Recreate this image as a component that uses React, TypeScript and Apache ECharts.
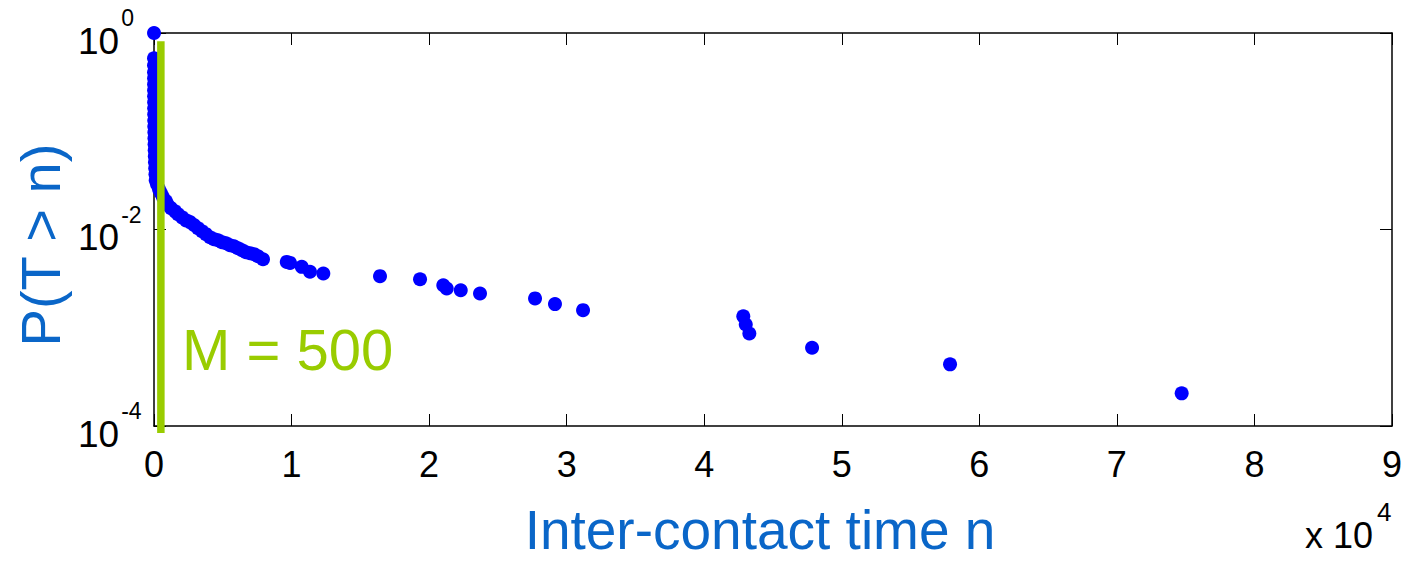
import { useEffect, useRef } from "react";
import * as echarts from "echarts";

// Empirical survival function of inter-contact times: P(T > n) against n.
const interContactTime = [
  1, 2, 3, 4, 5, 6, 7, 9, 11, 13, 16, 19, 23, 28, 34, 41, 50, 60, 72, 87, 105, 126,
  218, 364, 509, 654, 872, 1018, 1236, 1527, 1745, 2036, 2326, 2617, 2908, 3199,
  3490, 3780, 4071, 4362, 4653, 4944, 5234, 5525, 5816, 6107, 6398, 6688, 6979,
  7270, 7561, 7924,
  9650, 9890, 10740, 11340, 12310, 16430, 19340, 21030, 21280, 22300, 23700,
  27700, 29150, 31190,
  42840, 43020, 43280, 47840, 57870, 74710,
];

const survivalProb = [
  1.0, 0.553, 0.469, 0.398, 0.346, 0.301, 0.261, 0.227, 0.197, 0.171, 0.149, 0.129,
  0.112, 0.0977, 0.0849, 0.0738, 0.0641, 0.0557, 0.0484, 0.0421, 0.0366, 0.0318,
  0.0289, 0.0257, 0.0234, 0.0213, 0.0194, 0.0177, 0.0165, 0.0153, 0.0143, 0.0133,
  0.0124, 0.0119, 0.0111, 0.0103, 0.00961, 0.00896, 0.00835, 0.00797, 0.00778,
  0.00743, 0.00725, 0.00692, 0.00676, 0.00645, 0.00615, 0.00587, 0.00574, 0.00561,
  0.00535, 0.00498,
  0.00468, 0.00457, 0.00417, 0.00371, 0.00357, 0.00335, 0.00312, 0.00271, 0.00251,
  0.00241, 0.00223, 0.00199, 0.00174, 0.00151,
  0.00131, 0.00108, 0.000875, 0.000625, 0.000424, 0.000215,
];

// Threshold marker M and the vertical extent of its bar.
const thresholdM = 500;
const thresholdSpan = [0.823, 0.0000847];

const xMin = 0;
const xMax = 90000;
const xStep = 10000;
const xScaleExponent = 4;
const yMin = 1e-4;
const yMax = 1;

const FONT = '"Liberation Sans", Arial, Helvetica, sans-serif';
const TITLE_BLUE = "#0a66c8";
const GREEN = "#99cc00";
const POINT_BLUE = "#0000ff";

export default function App() {
  const ref = useRef<HTMLDivElement>(null);

  useEffect(() => {
    if (!ref.current) return;
    document.body.style.margin = "0";
    const chart = echarts.init(ref.current, undefined, { renderer: "svg" });

    const points = interContactTime.map((n, i) => [n, survivalProb[i]]);

    const frameLine = { show: true, onZero: false, lineStyle: { color: "#000", width: 1.5 } };
    const innerTick = { show: true, inside: true, length: 12, lineStyle: { color: "#000", width: 1 } };

    const option: echarts.EChartsOption = {
      animation: false,
      backgroundColor: "#fff",
      grid: { left: 154, right: 18, top: 33, bottom: 136, containLabel: false },
      xAxis: [
        {
          type: "value",
          min: xMin,
          max: xMax,
          interval: xStep,
          position: "bottom",
          axisLine: frameLine,
          axisTick: innerTick,
          splitLine: { show: false },
          axisLabel: {
            margin: 20,
            fontSize: 36,
            color: "#000",
            fontFamily: FONT,
            formatter: (v: number) => String(Math.round(v / Math.pow(10, xScaleExponent))),
          },
        },
        {
          type: "value",
          min: xMin,
          max: xMax,
          interval: xStep,
          position: "top",
          axisLine: frameLine,
          axisTick: innerTick,
          splitLine: { show: false },
          axisLabel: { show: false },
        },
      ],
      yAxis: [
        {
          type: "log",
          logBase: 100,
          min: yMin,
          max: yMax,
          position: "left",
          axisLine: frameLine,
          axisTick: innerTick,
          minorTick: { show: false },
          splitLine: { show: false },
          axisLabel: {
            align: "left",
            margin: 76,
            color: "#000",
            fontFamily: FONT,
            formatter: (v: number) => `{b|10}{e|${Math.round(Math.log10(v))}}`,
            rich: {
              b: { fontSize: 37, fontFamily: FONT, color: "#000", padding: [16, 0, 0, 0] },
              e: { fontSize: 23, fontFamily: FONT, color: "#000", verticalAlign: "top", padding: [0, 0, 0, 2] },
            },
          },
        },
        {
          type: "log",
          logBase: 100,
          min: yMin,
          max: yMax,
          position: "right",
          axisLine: frameLine,
          axisTick: innerTick,
          minorTick: { show: false },
          splitLine: { show: false },
          axisLabel: { show: false },
        },
      ],
      series: [
        {
          type: "scatter",
          data: points,
          symbol: "circle",
          symbolSize: 14,
          clip: false,
          itemStyle: { color: POINT_BLUE, opacity: 1 },
          z: 2,
        },
        {
          type: "line",
          data: thresholdSpan.map((p) => [thresholdM, p]),
          symbol: "none",
          clip: false,
          lineStyle: { color: GREEN, width: 7.5, cap: "butt" },
          z: 3,
        },
      ],
      graphic: [
        {
          type: "text",
          x: 182,
          y: 349,
          style: {
            text: `M = ${thresholdM}`,
            font: `58px ${FONT}`,
            fill: GREEN,
            align: "left",
            verticalAlign: "middle",
          },
        },
        {
          type: "text",
          x: 760,
          y: 530,
          style: {
            text: "Inter-contact time n",
            font: `55px ${FONT}`,
            fill: TITLE_BLUE,
            align: "center",
            verticalAlign: "middle",
          },
        },
        {
          type: "text",
          x: 40,
          y: 245,
          rotation: Math.PI / 2,
          style: {
            text: "P(T > n)",
            font: `56px ${FONT}`,
            fill: TITLE_BLUE,
            align: "center",
            verticalAlign: "middle",
          },
        },
        {
          type: "text",
          x: 1305,
          y: 526,
          style: {
            text: `{a|x 10}{e|${xScaleExponent}}`,
            align: "left",
            verticalAlign: "middle",
            rich: {
              a: { fontSize: 36, fontFamily: FONT, fill: "#000", padding: [18, 0, 0, 0] },
              e: { fontSize: 26, fontFamily: FONT, fill: "#000", verticalAlign: "top", padding: [0, 0, 0, 4] },
            },
          },
        },
      ],
    };

    chart.setOption(option);
    return () => chart.dispose();
  }, []);

  return <div ref={ref} style={{ width: 1410, height: 562 }} />;
}
